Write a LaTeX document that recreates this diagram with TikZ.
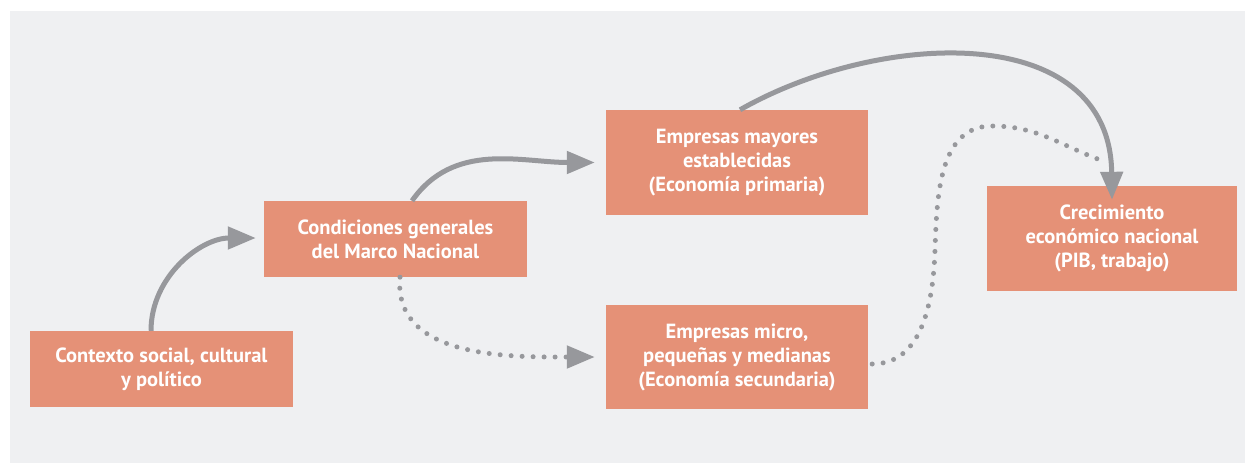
\documentclass[tikz,border=0pt]{standalone}
\usepackage{fontspec}
\setmainfont{PT Sans}
\usetikzlibrary{arrows.meta}
\definecolor{fondo}{HTML}{EFF0F2}
\definecolor{salmon}{HTML}{E59177}
\definecolor{gris}{HTML}{97989C}
\begin{document}
\begin{tikzpicture}[x=1pt,y=-1pt,
	caja/.style={fill=salmon,text=white,font=\fontsize{20.5}{24}\selectfont\bfseries,align=center,inner sep=0pt},
	flecha/.style={draw=gris,line width=5pt,-{Triangle[length=28pt,width=22pt]}},
	puntos/.style={flecha,line cap=round,dash pattern=on 0pt off 11pt}]
	\useasboundingbox (0,0) rectangle (1245,463);
	\fill[fondo] (10,11) rectangle (1245,463);
	
	\node[caja,minimum width=263pt,minimum height=76pt] (contexto) at (161.5,369) {Contexto social, cultural\\ y pol\'itico};
	\node[caja,minimum width=263pt,minimum height=76pt] (marco) at (395.5,239) {Condiciones generales\\ del Marco Nacional};
	\node[caja,minimum width=262pt,minimum height=105pt] (mayores) at (737,162.5) {Empresas mayores\\ establecidas\\ (Econom\'ia primaria)};
	\node[caja,minimum width=262pt,minimum height=104pt] (micro) at (737,357) {Empresas micro,\\ peque\~nas y medianas\\ (Econom\'ia secundaria)};
	\node[caja,minimum width=250pt,minimum height=105pt] (pib) at (1112,238.5) {Crecimiento\\ econ\'omico nacional\\ (PIB, trabajo)};
	
	\coordinate (cruce) at (1103,161);
	
	\draw[flecha] ([xshift=-10.5pt]contexto.north) to[out=90,in=180] ([xshift=-8pt,yshift=1pt]marco.west);
	\draw[flecha] ([xshift=16.5pt]marco.north) to[out=55,in=180] ([xshift=-11pt]mayores.west);
	\draw[puntos] ([xshift=4.5pt]marco.south) to[out=-95,in=180] ([xshift=-11pt]micro.west);
	\draw[flecha] ([xshift=3pt]mayores.north) .. controls (880,30) and (1110,20) .. ([yshift=-14pt]pib.north);
	\draw[puntos,-] ([xshift=4pt,yshift=-7pt]micro.east) to[out=0,in=-92] (935,250) to[out=88,in=180] (992,126) to[out=0,in=160] (cruce);
\end{tikzpicture}
\end{document}
